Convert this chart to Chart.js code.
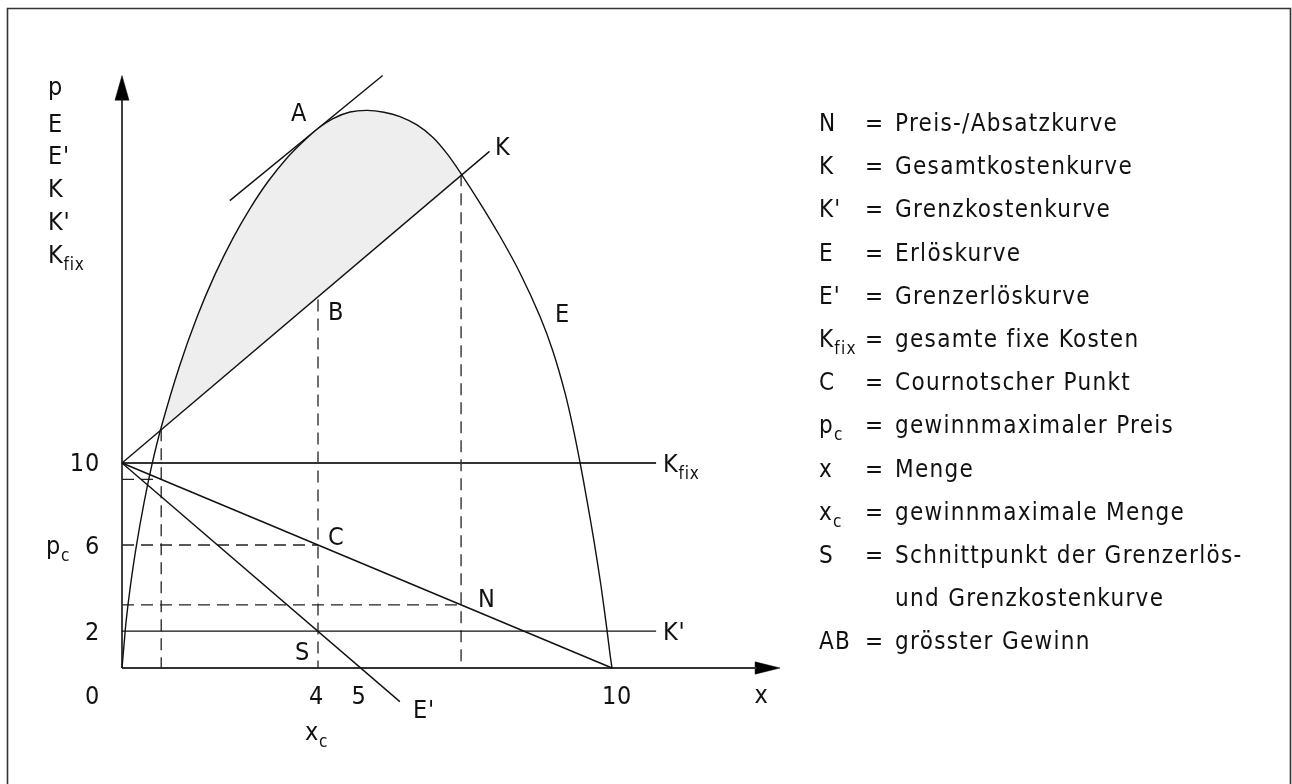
<!DOCTYPE html>
<html><head><meta charset="utf-8">
<script src="https://cdn.jsdelivr.net/npm/chart.js@4/dist/chart.umd.min.js"></script>
<style>html,body{margin:0;padding:0;background:#fff;}#wrap{width:1292px;height:784px;position:relative;}</style>
</head><body><div id="wrap"><canvas id="c" width="1292" height="784"></canvas></div>
<script>
// ---- data (quantity x, value p / E / K) ----
const revenueE = [
  {x:0,y:0},{x:0.041,y:1.12},{x:0.082,y:2.24},{x:0.163,y:3.85},{x:0.286,y:5.85},{x:0.449,y:8.05},
  {x:0.612,y:9.93},{x:0.796,y:11.71},{x:1.163,y:14.65},{x:1.531,y:17.12},{x:1.898,y:19.20},
  {x:2.265,y:20.97},{x:2.612,y:22.41},{x:2.980,y:23.73},{x:3.367,y:24.88},{x:3.694,y:25.67},
  {x:4.0,y:26.32},{x:4.306,y:26.80},{x:4.653,y:27.12},{x:5.0,y:27.20},{x:5.347,y:27.11},
  {x:5.673,y:26.90},{x:6.020,y:26.49},{x:6.347,y:25.88},{x:6.633,y:25.09},{x:6.918,y:24.12},
  {x:7.306,y:22.68},{x:7.714,y:21.06},{x:8.122,y:19.27},{x:8.531,y:17.15},{x:8.796,y:15.44},
  {x:9.041,y:13.42},{x:9.204,y:11.74},{x:9.347,y:10.03},{x:9.490,y:8.17},{x:9.633,y:6.19},
  {x:9.776,y:4.00},{x:9.898,y:1.85},{x:9.959,y:0.68},{x:10,y:0}
];
const totalCostK = [{x:0,y:10},{x:7.5,y:25.2}];
const demandN = [{x:0,y:10},{x:10,y:0}];
const marginalRevenueE = [{x:0,y:10},{x:5.67,y:-1.64}];
const fixedCostKfix = [{x:0,y:10},{x:10.9,y:10}];
const marginalCostK = [{x:0,y:1.8},{x:10.9,y:1.8}];
const tangentAtA = [{x:2.2,y:22.8},{x:5.32,y:28.9}];
const guideX4 = [{x:4,y:26.32},{x:4,y:0}];
const guideXN = [{x:6.92,y:24.08},{x:6.92,y:0}];
const guideXLow = [{x:0.8,y:11.65},{x:0.8,y:0}];
const guidePc = [{x:0,y:6},{x:4,y:6}];
const guidePN = [{x:0,y:3.08},{x:6.92,y:3.08}];
const guidePLow = [{x:0,y:9.2},{x:0.8,y:9.2}];
const yAxisLine = [{x:0,y:0},{x:0,y:27.8}];
const xAxisLine = [{x:0,y:0},{x:12.95,y:0}];
const yArrow = [{x:-0.143,y:27.7},{x:0.143,y:27.7},{x:0,y:28.9},{x:-0.143,y:27.7}];
const xArrow = [{x:12.92,y:-0.3},{x:12.92,y:0.3},{x:13.43,y:0},{x:12.92,y:-0.3}];

// ---- texts ----
const axisStack = ["p","E","E'","K","K'","K"];
const axisStackSubs = ["","","","","","fix"];
const yTickLabels = ["10","6","2","0"];
const xTickLabels = ["4","5","10"];
const legendKeys = ["N","K","K'","E","E'","K","C","p","x","x","S","","AB"];
const legendKeySubs = ["","","","","","fix","","c","","c","","",""];
const legendTexts = ["Preis-/Absatzkurve","Gesamtkostenkurve","Grenzkostenkurve","Erlöskurve",
  "Grenzerlöskurve","gesamte fixe Kosten","Cournotscher Punkt","gewinnmaximaler Preis","Menge",
  "gewinnmaximale Menge","Schnittpunkt der Grenzerlös-","und Grenzkostenkurve","grösster Gewinn"];

// ---- layout of texts (pixels) ----
const FAMILY = "'DejaVu Sans Condensed','Liberation Sans Narrow',sans-serif";
const chartTexts = [
  ...axisStack.map((t,i)=>({t, sub:axisStackSubs[i], x:48, y:[95,132,164,197,230,263][i]})),
  {t:yTickLabels[0], x:100, y:471, align:'right'},
  {t:yTickLabels[1], x:100, y:554, align:'right'},
  {t:"p", sub:"c", x:46, y:554},
  {t:yTickLabels[2], x:100, y:640, align:'right'},
  {t:yTickLabels[3], x:100, y:704, align:'right'},
  {t:xTickLabels[0], x:316.5, y:704, align:'center'},
  {t:xTickLabels[1], x:359, y:704, align:'center'},
  {t:xTickLabels[2], x:617, y:704, align:'center'},
  {t:"x", x:761.5, y:703, align:'center'},
  {t:"x", sub:"c", x:305, y:740},
  {t:"A", x:291, y:121},
  {t:"B", x:328, y:320},
  {t:"K", x:495, y:155},
  {t:"E", x:555, y:322},
  {t:"C", x:328, y:545},
  {t:"N", x:478, y:607},
  {t:"S", x:295, y:660},
  {t:"E'", x:413, y:718},
  {t:"K", sub:"fix", x:663, y:472},
  {t:"K'", x:663, y:640}
];

const line = (data, extra={}) => Object.assign({data, showLine:true, pointRadius:0, borderColor:'#111',
  borderWidth:1.4, fill:false, tension:0}, extra);
const dash = (data) => line(data, {borderDash:[12,7], borderColor:'#222', borderWidth:1.3});

const datasets = [
  line(totalCostK),                                   // 0
  line(revenueE, {tension:0.3,
    fill:{target:0, above:'#eeeeee', below:'rgba(0,0,0,0)'}}), // 1
  line(demandN), line(marginalRevenueE),
  line(fixedCostKfix, {borderColor:'#333', borderWidth:1.8}),
  line(marginalCostK),
  line(tangentAtA),
  dash(guideX4), dash(guideXN), dash(guideXLow), dash(guidePc), dash(guidePN), dash(guidePLow),
  line(yAxisLine, {borderWidth:1.6}), line(xAxisLine, {borderColor:'#333', borderWidth:2}),
  line(yArrow, {fill:'shape', backgroundColor:'#000', borderWidth:0.5, borderColor:'#000'}),
  line(xArrow, {fill:'shape', backgroundColor:'#000', borderWidth:0.5, borderColor:'#000'})
];

function drawText(ctx, it, size, subSize, spacing){
  ctx.letterSpacing = spacing + 'px';
  ctx.font = size + 'px ' + FAMILY;
  const wMain = ctx.measureText(it.t).width;
  let wSub = 0;
  if (it.sub){ ctx.font = subSize + 'px ' + FAMILY; wSub = ctx.measureText(it.sub).width + 1; }
  let x = it.x;
  if (it.align==='right') x -= wMain + wSub;
  else if (it.align==='center') x -= (wMain + wSub)/2;
  ctx.font = size + 'px ' + FAMILY;
  ctx.fillText(it.t, x, it.y);
  if (it.sub){ ctx.font = subSize + 'px ' + FAMILY; ctx.fillText(it.sub, x + wMain, it.y + 7); }
}

const textPlugin = {
  id:'texts',
  afterDraw(chart){
    const ctx = chart.ctx;
    ctx.save();
    ctx.fillStyle = '#111';
    ctx.textBaseline = 'alphabetic';
    ctx.textAlign = 'left';
    chartTexts.forEach(it => drawText(ctx, it, 25, 17, 0.8));
    legendTexts.forEach((txt,i)=>{
      const y = 131 + 43.2*i;
      if (legendKeys[i]) drawText(ctx, {t:legendKeys[i], sub:legendKeySubs[i], x:819, y}, 24, 17, 1.2);
      if (i !== 11) drawText(ctx, {t:'=', x:865, y}, 24, 17, 0);
      drawText(ctx, {t:txt, x:895, y}, 24, 17, 1.3);
    });
    ctx.letterSpacing = '0px';
    ctx.strokeStyle = '#333'; ctx.lineWidth = 1.6;
    ctx.beginPath(); ctx.moveTo(7.5, 800); ctx.lineTo(7.5, 8.5); ctx.lineTo(1290.5, 8.5); ctx.lineTo(1290.5, 800); ctx.stroke();
    ctx.restore();
  }
};

new Chart(document.getElementById('c'), {
  type:'scatter',
  data:{datasets},
  options:{
    responsive:false, animation:false,
    layout:{padding:0},
    plugins:{legend:{display:false}, tooltip:{enabled:false}},
    scales:{
      x:{type:'linear', display:false, min:-122/49, max:(1292-122)/49},
      y:{type:'linear', display:false, min:-(784-668)/20.5, max:668/20.5}
    }
  },
  plugins:[textPlugin]
});
</script></body></html>
